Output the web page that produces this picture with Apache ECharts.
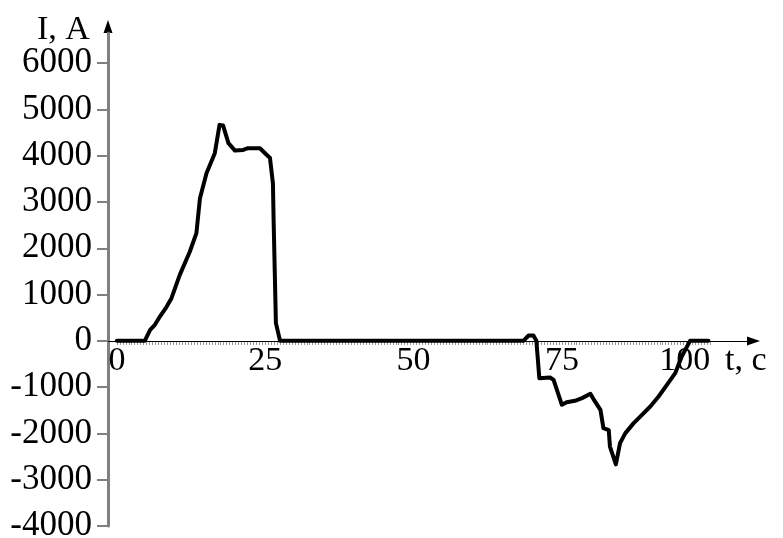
<!DOCTYPE html>
<html>
<head>
<meta charset="utf-8">
<script src="https://cdn.jsdelivr.net/npm/echarts@6/dist/echarts.min.js"></script>
<style>
html,body{margin:0;padding:0;background:#fff;}
#chart{width:783px;height:538px;}
</style>
</head>
<body>
<div id="chart"></div>
<script>
// time, s
var tValues = [0, 4.7, 5.6, 6.4, 7.25, 8.4, 9.2, 10.6, 12.3, 13.4, 14.0, 15.1, 16.5, 17.3, 17.9, 18.8, 19.9, 21.3, 22.1, 24.1, 25.8, 26.3, 26.4, 26.8, 27.5,
  68.5, 69.4, 70.2, 70.7, 71.2, 73.0, 73.6, 75.0, 75.8, 77.2, 78.4, 79.8, 80.3, 81.5, 82.0, 82.9, 83.1, 84.1, 84.8, 85.7, 87.1, 88.5, 89.9, 91.3, 92.7, 94.1, 95.2, 96.6, 99.7];
// current, A
var iValues = [0, 0, 237, 346, 525, 741, 922, 1425, 1929, 2326, 3082, 3622, 4054, 4665, 4650, 4270, 4110, 4125, 4162, 4160, 3950, 3400, 2685, 382, 0,
  0, 115, 115, 0, -806, -792, -843, -1382, -1325, -1296, -1238, -1145, -1253, -1490, -1886, -1930, -2283, -2670, -2210, -1994, -1778, -1598, -1419, -1203, -950, -698, -339, 0, 0];
var xTickLabels = [0, 25, 50, 75, 100];
var yTickLabels = [-4000, -3000, -2000, -1000, 0, 1000, 2000, 3000, 4000, 5000, 6000];

var xMinorTicks = [];
for (var k = 0; k <= 200; k++) { xMinorTicks.push(k * 0.5); }

var seriesData = tValues.map(function (t, i) { return [t, iValues[i]]; });
var FONT = "'Liberation Serif', 'Times New Roman', serif";
var plain = function (v) { return String(v); };

var X_OFFSET = -185; // x axis sits at I = 0

var chart = echarts.init(document.getElementById('chart'), null, {renderer: 'canvas'});
chart.setOption({
  backgroundColor: '#fff',
  animation: false,
  title: {
    text: 'I, A', left: 37, top: 13, padding: 0,
    textStyle: {fontFamily: FONT, fontSize: 34, fontWeight: 'normal', color: '#000'}
  },
  grid: {left: 108, right: 36, top: 33, bottom: 12, containLabel: false, outerBoundsMode: 'none'},
  xAxis: [{
    type: 'value', min: -1.5, max: 106.2, position: 'bottom', offset: X_OFFSET,
    axisLine: {onZero: false, lineStyle: {color: '#000', width: 1.2}, symbol: ['none', 'triangle'], symbolSize: [9, 13], symbolOffset: [0, 6.5]},
    axisTick: {show: false},
    splitLine: {show: false},
    axisLabel: {customValues: xTickLabels, formatter: plain, fontFamily: FONT, fontSize: 34, color: '#000', margin: 3, alignMaxLabel: 'right'},
    name: 't, c', nameLocation: 'end', nameGap: -22, nameMoveOverlap: false,
    nameTextStyle: {fontFamily: FONT, fontSize: 34, color: '#000', align: 'left', verticalAlign: 'top', padding: [3, 0, 0, 0]},
    z: 3
  }, {
    type: 'value', min: -1.5, max: 106.2, position: 'bottom', offset: X_OFFSET,
    axisLine: {onZero: false, show: false},
    axisTick: {customValues: xMinorTicks, length: 4, lineStyle: {color: '#999', width: 1}},
    axisLabel: {show: false},
    splitLine: {show: false},
    z: 2
  }],
  yAxis: [{
    type: 'value', min: -4000, max: 6650, position: 'left',
    axisLine: {onZero: false, lineStyle: {color: '#000', width: 1}, symbol: ['none', 'triangle'], symbolSize: [9, 13], symbolOffset: [0, 6.5]},
    axisTick: {show: false},
    axisLabel: {show: false},
    splitLine: {show: false},
    z: 2
  }, {
    type: 'value', min: -4000, max: 6650, position: 'left',
    axisLine: {onZero: false, lineStyle: {color: '#808080', width: 3}},
    axisTick: {customValues: yTickLabels, length: 11, lineStyle: {color: '#808080', width: 2}},
    axisLabel: {customValues: yTickLabels, formatter: plain, fontFamily: FONT, fontSize: 35, color: '#000', margin: 16},
    splitLine: {show: false},
    z: 3
  }],
  series: [{
    type: 'line', xAxisIndex: 0, yAxisIndex: 0,
    data: seriesData,
    showSymbol: false, smooth: false,
    lineStyle: {color: '#000', width: 4, join: 'round', cap: 'round'},
    z: 5
  }]
});
</script>
</body>
</html>
